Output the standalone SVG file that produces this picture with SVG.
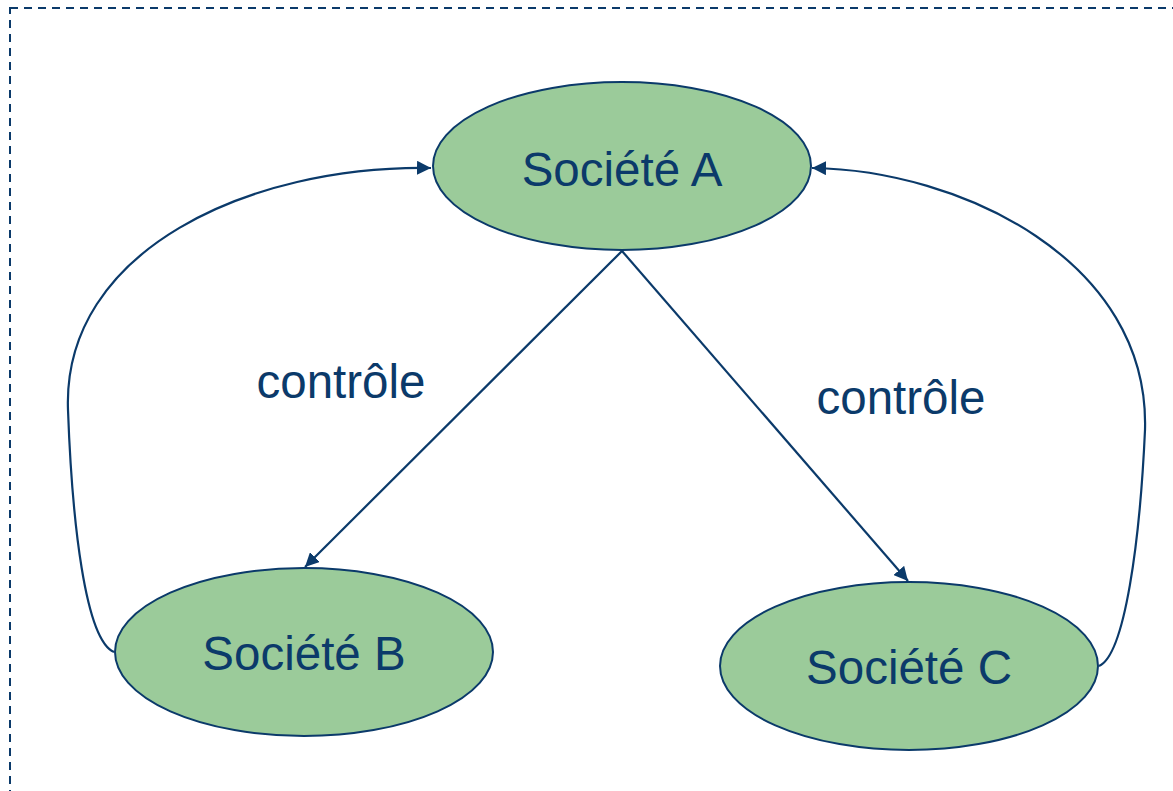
<svg xmlns="http://www.w3.org/2000/svg" width="1173" height="791" viewBox="0 0 1173 791">
<style>
.node{fill:#9BCB9A;stroke:#0B3A6A;stroke-width:2}
.lbl{font-family:"Liberation Sans",Arial,sans-serif;font-size:47.5px;fill:#0B3A6A;text-anchor:middle}
.edge{fill:none;stroke:#0B3A6A;stroke-width:2.2}
</style>
<defs>
<marker id="arrL" viewBox="0 0 10 10" refX="10" refY="5" markerWidth="14" markerHeight="14" markerUnits="userSpaceOnUse" orient="auto">
<path d="M0,0 L10,5 L0,10 z" fill="#0B3A6A"/>
</marker>
</defs>
<rect x="10" y="8" width="1170" height="800" fill="none" stroke="#0B3A6A" stroke-width="2" stroke-dasharray="8,6"/>
<g id="connectors">
<line class="edge" x1="622" y1="251" x2="305" y2="567" marker-end="url(#arrL)"/>
<line class="edge" x1="622" y1="251" x2="908" y2="581" marker-end="url(#arrL)"/>
<path class="edge" d="M114,652 C85,640 72,520 68,410 C62,250 250,165 431,168" marker-end="url(#arrL)"/>
<path class="edge" d="M1099,666 C1125,655 1140,540 1145,430 C1150,260 960,170 812,168" marker-end="url(#arrL)"/>
</g>
<g id="A"><ellipse class="node" cx="622" cy="166" rx="189" ry="84"/><text class="lbl" x="622" y="186">Société A</text></g>
<g id="B"><ellipse class="node" cx="304" cy="652" rx="189" ry="84"/><text class="lbl" x="304" y="670">Société B</text></g>
<g id="C"><ellipse class="node" cx="909" cy="666" rx="189" ry="84"/><text class="lbl" x="909" y="684">Société C</text></g>
<text class="lbl" x="341" y="398">contrôle</text>
<text class="lbl" x="901" y="414">contrôle</text>
</svg>
